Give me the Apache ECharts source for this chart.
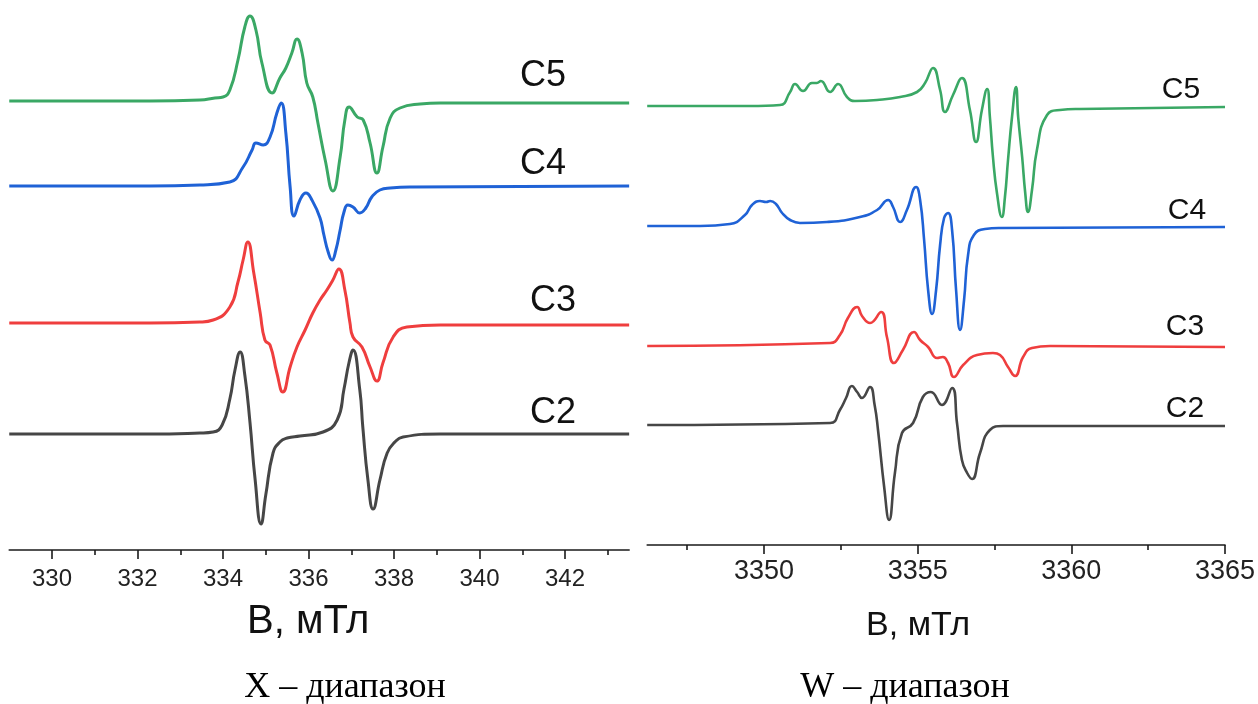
<!DOCTYPE html>
<html>
<head>
<meta charset="utf-8">
<script src="https://cdn.jsdelivr.net/npm/echarts@6/dist/echarts.min.js"></script>
<style>
html, body { margin: 0; padding: 0; background: #ffffff; }
#chart { width: 1258px; height: 704px; }
</style>
</head>
<body>
<div id="chart"></div>
<script>
// EPR spectra, pairs of [field B (mT), signal (arb. units, relative to baseline)]

// X band
const c5X = [[329.0,1],[332.29,1],[333.46,2],[333.81,4],[334.00,5],[334.16,12],[334.35,42],[334.51,75],[334.63,86],[334.77,72],[334.91,39],[335.15,9],[335.33,24],[335.47,34],[335.61,49],[335.73,63],[335.85,49],[335.96,19],[336.10,5],[336.22,-21],[336.39,-58],[336.57,-89],[336.74,-55],[336.85,-18],[336.95,-5],[337.14,-15],[337.28,-18],[337.44,-41],[337.60,-71],[337.74,-45],[337.91,-16],[338.14,-6],[338.61,-2],[339.08,-1],[343.5,-1]];
const c4X = [[329.0,0],[332.29,0],[333.46,1],[334.16,4],[334.47,19],[334.68,36],[334.77,43],[334.94,41],[335.10,49],[335.26,73],[335.36,83],[335.47,53],[335.57,-1],[335.66,-30],[335.80,-14],[335.94,-7],[336.08,-14],[336.27,-32],[336.36,-49],[336.46,-66],[336.55,-74],[336.64,-64],[336.74,-44],[336.83,-26],[336.92,-19],[337.04,-21],[337.20,-27],[337.34,-22],[337.48,-11],[337.67,-4],[337.91,-2],[338.44,-1],[343.5,0]];
const c3X = [[329.0,1],[332.29,1],[333.46,2],[333.77,4],[334.16,17],[334.35,42],[334.47,64],[334.58,82],[334.72,51],[334.87,11],[334.98,-16],[335.10,-21],[335.26,-49],[335.40,-68],[335.57,-43],[335.73,-23],[335.92,-6],[336.10,11],[336.27,24],[336.43,34],[336.57,44],[336.71,55],[336.85,34],[336.97,1],[337.04,-13],[337.25,-23],[337.44,-43],[337.60,-57],[337.74,-39],[337.98,-13],[338.30,-3],[339.08,-1],[343.5,-1]];
const c2X = [[329.0,0],[332.29,0],[333.46,1],[333.77,2],[333.98,9],[334.16,35],[334.28,64],[334.40,82],[334.51,59],[334.63,12],[334.75,-45],[334.89,-90],[335.00,-61],[335.17,-19],[335.33,-8],[335.50,-4],[335.80,-2],[336.34,2],[336.67,14],[336.83,45],[336.95,72],[337.04,84],[337.20,44],[337.27,7],[337.39,-46],[337.51,-75],[337.67,-46],[337.84,-19],[338.02,-8],[338.21,-3],[339.08,0],[343.5,0]];

// W band
const c5W = [[3346.2,2],[3349.54,2],[3350.52,3],[3350.85,16],[3351.01,24],[3351.27,17],[3351.56,25],[3351.72,25],[3351.85,27],[3352.15,16],[3352.41,24],[3352.70,11],[3352.96,7],[3353.68,8],[3354.43,11],[3354.98,16],[3355.24,25],[3355.50,40],[3355.73,18],[3355.89,-4],[3356.15,13],[3356.44,30],[3356.70,-2],[3356.90,-34],[3357.09,-2],[3357.26,19],[3357.35,-9],[3357.45,-49],[3357.58,-85],[3357.74,-109],[3357.84,-89],[3357.94,-52],[3358.07,-9],[3358.20,21],[3358.27,-9],[3358.40,-49],[3358.50,-85],[3358.59,-104],[3358.72,-82],[3358.88,-42],[3359.21,-7],[3359.63,-2],[3360.28,-1],[3365,1]];
const c4W = [[3346.2,0],[3347.92,0],[3348.89,2],[3349.38,11],[3349.61,21],[3349.87,25],[3350.07,24],[3350.20,25],[3350.39,22],[3350.59,13],[3350.85,6],[3351.17,3],[3352.05,4],[3353.12,9],[3353.68,16],[3354.04,26],[3354.20,19],[3354.43,4],[3354.65,16],[3354.95,39],[3355.08,26],[3355.21,-14],[3355.34,-64],[3355.47,-88],[3355.60,-64],[3355.73,-19],[3355.86,8],[3355.99,13],[3356.12,-4],[3356.25,-64],[3356.38,-104],[3356.51,-74],[3356.64,-29],[3356.83,-9],[3357.19,-3],[3357.68,-2],[3365,-1]];
const c3W = [[3346.2,0],[3352.15,3],[3352.47,11],[3352.73,28],[3353.03,39],[3353.19,30],[3353.45,23],[3353.81,34],[3354.00,9],[3354.23,-17],[3354.52,-4],[3354.88,14],[3355.08,6],[3355.34,-1],[3355.63,-12],[3355.82,-11],[3355.99,-17],[3356.18,-31],[3356.48,-19],[3356.93,-9],[3357.45,-7],[3357.68,-9],[3357.94,-21],[3358.17,-30],[3358.43,-11],[3358.72,-2],[3359.31,0],[3365,-1]];
const c2W = [[3346.2,0],[3352.15,2],[3352.47,15],[3352.67,27],[3352.86,39],[3353.03,33],[3353.19,27],[3353.45,38],[3353.60,20],[3353.71,-5],[3353.91,-62],[3354.07,-95],[3354.26,-48],[3354.49,-8],[3354.85,2],[3355.17,28],[3355.43,33],[3355.79,20],[3356.12,37],[3356.28,2],[3356.44,-35],[3356.61,-48],[3356.77,-54],[3357.03,-28],[3357.35,-5],[3357.78,-1],[3365,-1]];

// Sample names, drawn top to bottom, and the stacking offset of each trace
const sampleNames = ['C5', 'C4', 'C3', 'C2'];
const offsetsX = [448, 364, 226, 116];
const offsetsW = [437, 319, 199, 120];

// Axis ticks
const majorTicksX = [330, 332, 334, 336, 338, 340, 342];
const minorTicksX = [331, 333, 335, 337, 339, 341, 343];
const majorTicksW = [3350, 3355, 3360, 3365];
const minorTicksW = [3347.5, 3352.5, 3357.5, 3362.5];

const axisTitle = 'B, мТл';
const panelTitles = ['X – диапазон', 'W – диапазон'];

const colors = ['#3aa865', '#1f62d6', '#ef3e3e', '#464646'];
const sans = 'Liberation Sans, Arial, sans-serif';

const spectraX = [c5X, c4X, c3X, c2X];
const spectraW = [c5W, c4W, c3W, c2W];

function lift(points, offset) {
  return points.map(p => [p[0], p[1] + offset]);
}

const series = [];
spectraX.forEach((pts, i) => {
  series.push({
    name: sampleNames[i] + ' X', type: 'line', xAxisIndex: 0, yAxisIndex: 0,
    data: lift(pts, offsetsX[i]), showSymbol: false, smooth: 0.5,
    lineStyle: { color: colors[i], width: 3 }, itemStyle: { color: colors[i] }, z: 5 - i
  });
});
spectraW.forEach((pts, i) => {
  series.push({
    name: sampleNames[i] + ' W', type: 'line', xAxisIndex: 2, yAxisIndex: 1,
    data: lift(pts, offsetsW[i]), showSymbol: false, smooth: 0.5,
    lineStyle: { color: colors[i], width: 2.6 }, itemStyle: { color: colors[i] }, z: 5 - i
  });
});

function majorAxis(grid, min, max, ticks, labelSize, margin, nameSize, nameGap, namePad) {
  return {
    type: 'value', gridIndex: grid, position: 'bottom', min: min, max: max,
    axisLine: { show: true, onZero: false, lineStyle: { color: '#1a1a1a', width: 1.6 } },
    axisTick: { show: true, customValues: ticks, length: 9, inside: false, lineStyle: { color: '#1a1a1a', width: 1.6 } },
    axisLabel: { show: true, customValues: ticks, fontSize: labelSize, color: '#222', fontFamily: sans, margin: margin,
                 formatter: v => String(v) },
    splitLine: { show: false },
    name: axisTitle, nameLocation: 'middle', nameGap: nameGap,
    nameTextStyle: { fontSize: nameSize, color: '#111', fontFamily: sans, padding: namePad }
  };
}
function minorAxis(grid, min, max, ticks) {
  return {
    type: 'value', gridIndex: grid, position: 'bottom', min: min, max: max,
    axisLine: { show: false },
    axisTick: { show: true, customValues: ticks, length: 5, inside: false, lineStyle: { color: '#1a1a1a', width: 1.6 } },
    axisLabel: { show: false },
    splitLine: { show: false }
  };
}

function nameText(txt, x, y, size, color) {
  return {
    type: 'text', x: x, y: y,
    style: { text: txt, fill: color, font: size + 'px ' + sans, textAlign: 'center', textVerticalAlign: 'middle' }
  };
}

const labelPosX = [[543, 76], [543, 164], [553, 301], [553, 413]];
const labelPosW = [[1181, 90], [1187, 211], [1185, 327], [1185, 409]];

const graphic = [];
sampleNames.forEach((n, i) => {
  graphic.push(nameText(n, labelPosX[i][0], labelPosX[i][1], 36, '#111'));
  graphic.push(nameText(n, labelPosW[i][0], labelPosW[i][1], 30, '#111'));
});
panelTitles.forEach((t, i) => {
  graphic.push({
    type: 'text', x: i === 0 ? 345 : 905, y: 688,
    style: { text: t, fill: '#000', font: '36px "Liberation Serif", "Times New Roman", serif', textAlign: 'center', textVerticalAlign: 'middle' }
  });
});

const chart = echarts.init(document.getElementById('chart'), null, { renderer: 'canvas' });
chart.setOption({
  animation: false,
  backgroundColor: '#ffffff',
  grid: [
    { left: 9.25, width: 619.9, top: 0, height: 550, outerBoundsMode: 'none', containLabel: false },
    { left: 647.2, width: 577.8, top: 0, height: 545, outerBoundsMode: 'none', containLabel: false }
  ],
  xAxis: [
    majorAxis(0, 329, 343.5, majorTicksX, 24, 17, 40, 52, [0, 22, 0, 0]),
    minorAxis(0, 329, 343.5, minorTicksX),
    majorAxis(1, 3346.2, 3365, majorTicksW, 27, 13, 34, 64, [0, 36, 0, 0]),
    minorAxis(1, 3346.2, 3365, minorTicksW)
  ],
  yAxis: [
    { type: 'value', gridIndex: 0, min: 0, max: 550, show: false },
    { type: 'value', gridIndex: 1, min: 0, max: 545, show: false }
  ],
  series: series,
  graphic: graphic
});
</script>
</body>
</html>
